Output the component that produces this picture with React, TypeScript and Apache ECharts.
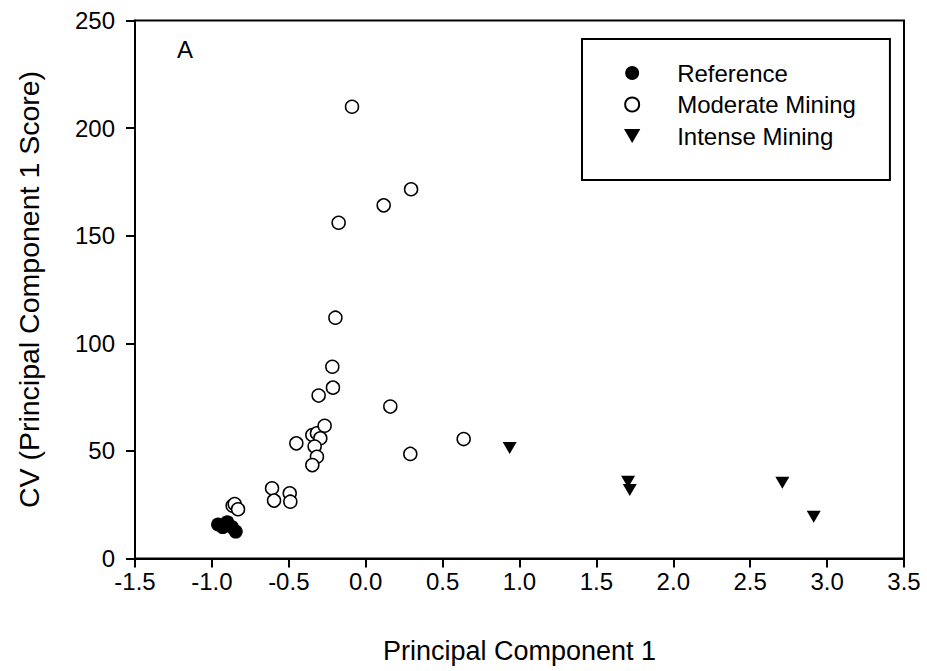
import React, { useEffect, useRef } from "react";
import * as echarts from "echarts";

// Principal component scores by site group
const referenceX = [-0.96, -0.93, -0.9, -0.87, -0.845];
const referenceY = [15.8, 14.6, 16.8, 14.6, 12.5];

const moderateX = [
  -0.865, -0.852, -0.83, -0.609, -0.596, -0.494, -0.49, -0.451, -0.347, -0.317,
  -0.267, -0.295, -0.332, -0.317, -0.347, -0.306, -0.213, -0.217, -0.197, 0.16,
  0.29, 0.637, -0.176, 0.117, 0.295, -0.089,
];
const moderateY = [
  24.5, 25.3, 22.9, 32.6, 26.9, 30.3, 26.4, 53.5, 57.4, 58.2,
  61.7, 55.9, 52.0, 47.3, 43.4, 75.7, 79.4, 89.1, 111.9, 70.6,
  48.6, 55.5, 156.0, 164.1, 171.6, 209.9,
];

const intenseX = [0.936, 1.706, 1.717, 2.709, 2.913];
const intenseY = [51.3, 35.7, 31.8, 35.2, 19.4];

const seriesNames = ["Reference", "Moderate Mining", "Intense Mining"];
const xTitle = "Principal Component 1";
const yTitle = "CV (Principal Component 1 Score)";
const panelLabel = "A";

const FONT = "'Liberation Sans', Arial, Helvetica, sans-serif";
const TRIANGLE_DOWN = "path://M0,0 L14,0 L7,12 Z";

const zip = (xs: number[], ys: number[]) => xs.map((x, i) => [x, ys[i]]);

export default function App() {
  const ref = useRef<HTMLDivElement>(null);

  useEffect(() => {
    if (!ref.current) return;
    const chart = echarts.init(ref.current, undefined, { renderer: "svg" });
    chart.setOption({
      animation: false,
      backgroundColor: "#ffffff",
      textStyle: { fontFamily: FONT, color: "#000" },
      grid: {
        left: 135,
        right: 23,
        top: 20.5,
        bottom: 112.5,
        show: true,
        borderColor: "#000",
        borderWidth: 2,
        backgroundColor: "transparent",
      },
      xAxis: {
        type: "value",
        min: -1.5,
        max: 3.5,
        interval: 0.5,
        name: xTitle,
        nameLocation: "middle",
        nameGap: 79,
        nameTextStyle: { fontSize: 27, color: "#000", fontFamily: FONT },
        axisLine: { show: true, onZero: false, lineStyle: { color: "#000", width: 2 } },
        axisTick: { show: true, inside: false, length: 9, lineStyle: { color: "#000", width: 2 } },
        axisLabel: {
          fontSize: 24,
          color: "#000",
          fontFamily: FONT,
          margin: 11,
          formatter: (v: number) => v.toFixed(1),
        },
        splitLine: { show: false },
      },
      yAxis: {
        type: "value",
        min: 0,
        max: 250,
        interval: 50,
        name: yTitle,
        nameLocation: "middle",
        nameGap: 92,
        nameTextStyle: { fontSize: 28.5, color: "#000", fontFamily: FONT },
        axisLine: { show: true, onZero: false, lineStyle: { color: "#000", width: 2 } },
        axisTick: { show: true, inside: false, length: 9, lineStyle: { color: "#000", width: 2 } },
        axisLabel: { fontSize: 24, color: "#000", fontFamily: FONT, margin: 20 },
        splitLine: { show: false },
      },
      legend: {
        data: seriesNames,
        orient: "vertical",
        left: 582,
        top: 39,
        padding: [22, 34, 32, 42],
        itemWidth: 80,
        itemHeight: 14,
        itemGap: 7.5,
        borderColor: "#000",
        borderWidth: 2,
        backgroundColor: "#fff",
        textStyle: { fontSize: 24, color: "#000", fontFamily: FONT },
      },
      graphic: [
        {
          type: "text",
          left: 177,
          top: 37,
          style: { text: panelLabel, fontSize: 24, fill: "#000", fontFamily: FONT },
        },
      ],
      series: [
        {
          name: seriesNames[1],
          type: "scatter",
          symbol: "circle",
          symbolSize: 13,
          itemStyle: { color: "#fff", borderColor: "#000", borderWidth: 1.5, opacity: 1 },
          data: zip(moderateX, moderateY),
          z: 2,
        },
        {
          name: seriesNames[0],
          type: "scatter",
          symbol: "circle",
          symbolSize: 14,
          itemStyle: { color: "#000", borderColor: "#000", borderWidth: 0, opacity: 1 },
          data: zip(referenceX, referenceY),
          z: 3,
        },
        {
          name: seriesNames[2],
          type: "scatter",
          symbol: TRIANGLE_DOWN,
          symbolSize: [14, 12],
          itemStyle: { color: "#000", opacity: 1 },
          data: zip(intenseX, intenseY),
          z: 3,
        },
      ],
    });
    return () => chart.dispose();
  }, []);

  return (
    <div
      ref={ref}
      style={{ position: "fixed", left: 0, top: 0, width: 927, height: 671, background: "#fff" }}
    />
  );
}
